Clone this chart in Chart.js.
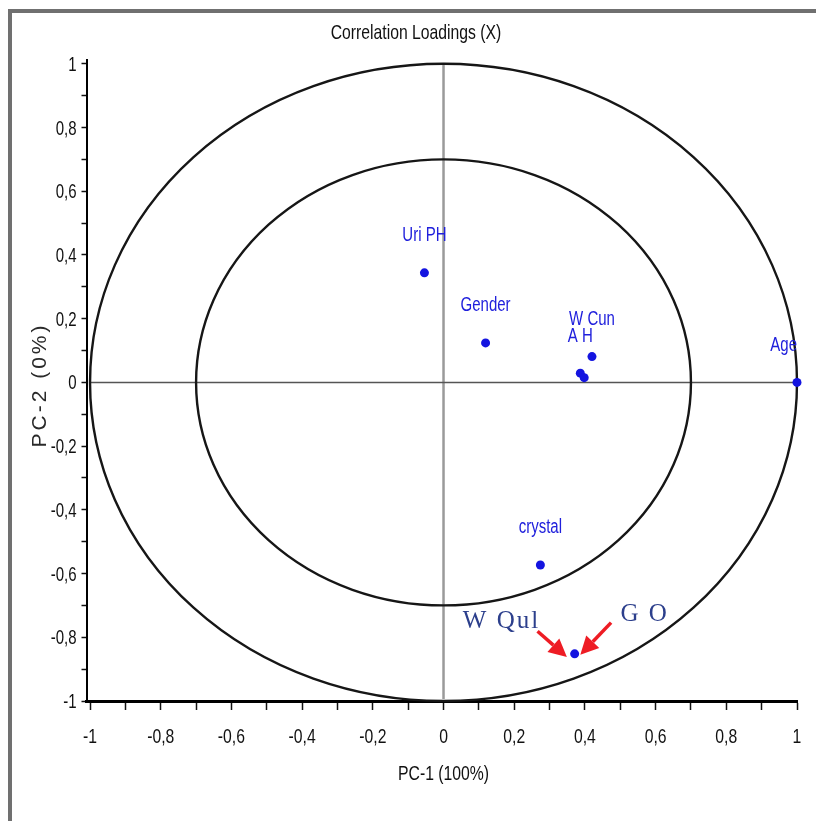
<!DOCTYPE html>
<html>
<head>
<meta charset="utf-8">
<title>Correlation Loadings (X)</title>
<script src="https://cdn.jsdelivr.net/npm/chart.js@4.4.1/dist/chart.umd.min.js"></script>
<style>
    html, body { margin: 0; padding: 0; background: #fff; }
    canvas { display: block; }
</style>
</head>
<body>
<canvas id="loadings" width="816" height="821"></canvas>
<script>
// Loadings
const pointLabels = ['Uri PH', 'Gender', 'W Cun', 'A H', '', 'Age', 'crystal', ''];
const pc1Values = [-0.054, 0.119, 0.420, 0.387, 0.398, 1.000, 0.274, 0.371];
const pc2Values = [0.344, 0.124, 0.081, 0.029, 0.015, 0.000, -0.573, -0.852];

// Tick marks and their labels (comma decimals as in the original)
const tickValues = [-1, -0.9, -0.8, -0.7, -0.6, -0.5, -0.4, -0.3, -0.2, -0.1, 0,
    0.1, 0.2, 0.3, 0.4, 0.5, 0.6, 0.7, 0.8, 0.9, 1];
const majorTickValues = [-1, -0.8, -0.6, -0.4, -0.2, 0, 0.2, 0.4, 0.6, 0.8, 1];
const tickLabels = ['-1', '-0,8', '-0,6', '-0,4', '-0,2', '0', '0,2', '0,4', '0,6', '0,8', '1'];

// Correlation circles (100% and 50% explained variance)
const circleRadii = [1, 0.7];

// Hand-drawn annotations, in data units
const noteTexts = ['W Qul', 'G O'];
const noteX = [0.164, 0.569];
const noteY = [-0.749, -0.727];
const arrowFrom = [[0.266, -0.781], [0.474, -0.754]];
const arrowTo = [[0.349, -0.862], [0.387, -0.855]];

document.addEventListener('DOMContentLoaded', () => {
    const SANS = '"Liberation Sans", Arial, sans-serif';
    const SQUEEZE = 0.75;

    // Function to turn a tick value into its label
    const labelFor = (value) => {
        const i = majorTickValues.findIndex(m => Math.abs(m - value) < 1e-6);
        return i < 0 ? '' : tickLabels[i];
    };

    // Function to write condensed text (the original uses a narrow face)
    const narrowText = (ctx, text, x, y, size, color, align, baseline) => {
        ctx.save();
        ctx.translate(x, y);
        ctx.scale(SQUEEZE, 1);
        ctx.font = `${size}px ${SANS}`;
        ctx.fillStyle = color;
        ctx.textAlign = align || 'center';
        ctx.textBaseline = baseline || 'middle';
        ctx.fillText(text, 0, 0);
        ctx.restore();
    };

    // Function to draw an arrow with a filled head
    const drawArrow = (ctx, x1, y1, x2, y2) => {
        const angle = Math.atan2(y2 - y1, x2 - x1);
        const head = 18;
        const half = 9;
        const bx = x2 - head * Math.cos(angle);
        const by = y2 - head * Math.sin(angle);
        ctx.beginPath();
        ctx.moveTo(x1, y1);
        ctx.lineTo(bx, by);
        ctx.stroke();
        ctx.beginPath();
        ctx.moveTo(x2, y2);
        ctx.lineTo(bx + half * Math.sin(angle), by - half * Math.cos(angle));
        ctx.lineTo(bx - half * Math.sin(angle), by + half * Math.cos(angle));
        ctx.closePath();
        ctx.fill();
    };

    // Plugin for frame, titles, circles, zero lines, labels and notes
    const loadingsDecor = {
        id: 'loadingsDecor',
        beforeDraw(chart) {
            const { ctx, width, height, chartArea, scales: { x } } = chart;
            ctx.save();
            ctx.fillStyle = '#fff';
            ctx.fillRect(0, 0, width, height);

            ctx.strokeStyle = '#707070';
            ctx.lineWidth = 4;
            ctx.beginPath();
            ctx.moveTo(10, height);
            ctx.lineTo(10, 11);
            ctx.lineTo(width, 11);
            ctx.stroke();

            narrowText(ctx, 'Correlation Loadings (X)', 416, 33, 21, '#111');
            narrowText(ctx, 'PC-1 (100%)', x.getPixelForValue(0), chartArea.bottom + 73, 21, '#111');

            ctx.translate(40, 385);
            ctx.rotate(-Math.PI / 2);
            ctx.font = `21px ${SANS}`;
            ctx.letterSpacing = '3px';
            ctx.fillStyle = '#2a2a2a';
            ctx.textAlign = 'center';
            ctx.textBaseline = 'middle';
            ctx.fillText('PC-2 (0%)', 0, 0);
            ctx.restore();
        },
        beforeDatasetsDraw(chart) {
            const { ctx, chartArea, scales: { x, y } } = chart;
            const cx = x.getPixelForValue(0);
            const cy = y.getPixelForValue(0);
            ctx.save();

            ctx.strokeStyle = '#9a9a9a';
            ctx.lineWidth = 2.5;
            ctx.beginPath();
            ctx.moveTo(cx, chartArea.top + 4);
            ctx.lineTo(cx, chartArea.bottom - 2);
            ctx.stroke();

            ctx.strokeStyle = '#555';
            ctx.lineWidth = 1.5;
            ctx.beginPath();
            ctx.moveTo(x.getPixelForValue(-1), cy);
            ctx.lineTo(x.getPixelForValue(1), cy);
            ctx.stroke();

            ctx.strokeStyle = '#161616';
            ctx.lineWidth = 2.4;
            circleRadii.forEach(r => {
                ctx.beginPath();
                ctx.ellipse(cx, cy, x.getPixelForValue(r) - cx, cy - y.getPixelForValue(r), 0, 0, Math.PI * 2);
                ctx.stroke();
            });
            ctx.restore();
        },
        afterDatasetsDraw(chart) {
            const { ctx, chartArea, scales: { x, y } } = chart;
            ctx.save();

            // tick labels, condensed, at the library's tick positions
            x.ticks.forEach(t => {
                const label = labelFor(t.value);
                if (label) narrowText(ctx, label, x.getPixelForValue(t.value), chartArea.bottom + 42, 21, '#111', 'center', 'alphabetic');
            });
            y.ticks.forEach(t => {
                const label = labelFor(t.value);
                if (label) narrowText(ctx, label, chartArea.left - 10, y.getPixelForValue(t.value) + 7, 20, '#111', 'right', 'alphabetic');
            });

            // point names above each dot, kept inside the plot
            ctx.font = `20px ${SANS}`;
            pointLabels.forEach((label, i) => {
                if (!label) return;
                const w = ctx.measureText(label).width * SQUEEZE;
                let px = x.getPixelForValue(pc1Values[i]);
                if (px + w / 2 > chartArea.right) px = chartArea.right - w / 2;
                narrowText(ctx, label, px, y.getPixelForValue(pc2Values[i]) - 37, 20, '#2020dc');
            });

            // hand-written notes
            ctx.fillStyle = '#2c3f8c';
            ctx.font = '25px "Liberation Serif", "Times New Roman", serif';
            ctx.textAlign = 'center';
            ctx.textBaseline = 'middle';
            ctx.letterSpacing = '2px';
            noteTexts.forEach((text, i) => {
                ctx.fillText(text, x.getPixelForValue(noteX[i]), y.getPixelForValue(noteY[i]));
            });
            ctx.letterSpacing = '0px';

            ctx.strokeStyle = '#ee1c24';
            ctx.fillStyle = '#ee1c24';
            ctx.lineWidth = 3.5;
            arrowFrom.forEach((from, i) => {
                const to = arrowTo[i];
                drawArrow(ctx,
                    x.getPixelForValue(from[0]), y.getPixelForValue(from[1]),
                    x.getPixelForValue(to[0]), y.getPixelForValue(to[1]));
            });
            ctx.restore();
        }
    };

    // Function to build the shared axis options
    const axisOptions = (min, max, tickLength, padding, borderWidth, fit) => ({
        type: 'linear',
        min,
        max,
        afterBuildTicks: scale => {
            scale.ticks = tickValues.map(v => ({ value: v }));
        },
        afterFit: fit,
        border: { display: true, color: '#000', width: borderWidth },
        grid: { drawOnChartArea: false, drawTicks: true, tickLength, tickColor: '#111', tickWidth: 1.5 },
        ticks: {
            autoSkip: false,
            maxRotation: 0,
            padding,
            // labels are redrawn condensed by the plugin
            color: 'rgba(0,0,0,0)',
            font: { family: SANS, size: 16 },
            callback: value => labelFor(value)
        }
    });

    const xAxis = axisOptions(-1.01, 1, 9, 10, 3, scale => { scale.height = 120; });
    const yAxis = axisOptions(-1, 1.012, 5, 6, 2, scale => { scale.width = 86.5; });

    const points = pc1Values.map((v, i) => ({ x: v, y: pc2Values[i] }));

    new Chart(document.getElementById('loadings').getContext('2d'), {
        type: 'scatter',
        data: {
            datasets: [{
                data: points,
                pointRadius: 4.5,
                pointBackgroundColor: '#1414e0',
                pointBorderColor: '#1414e0',
                pointBorderWidth: 0,
                clip: false
            }]
        },
        options: {
            responsive: false,
            animation: false,
            devicePixelRatio: 1,
            layout: { padding: { top: 60, right: 19, bottom: 0, left: 0 } },
            plugins: {
                legend: { display: false },
                tooltip: { enabled: false }
            },
            scales: { x: xAxis, y: yAxis }
        },
        plugins: [loadingsDecor]
    });
});
</script>
</body>
</html>
